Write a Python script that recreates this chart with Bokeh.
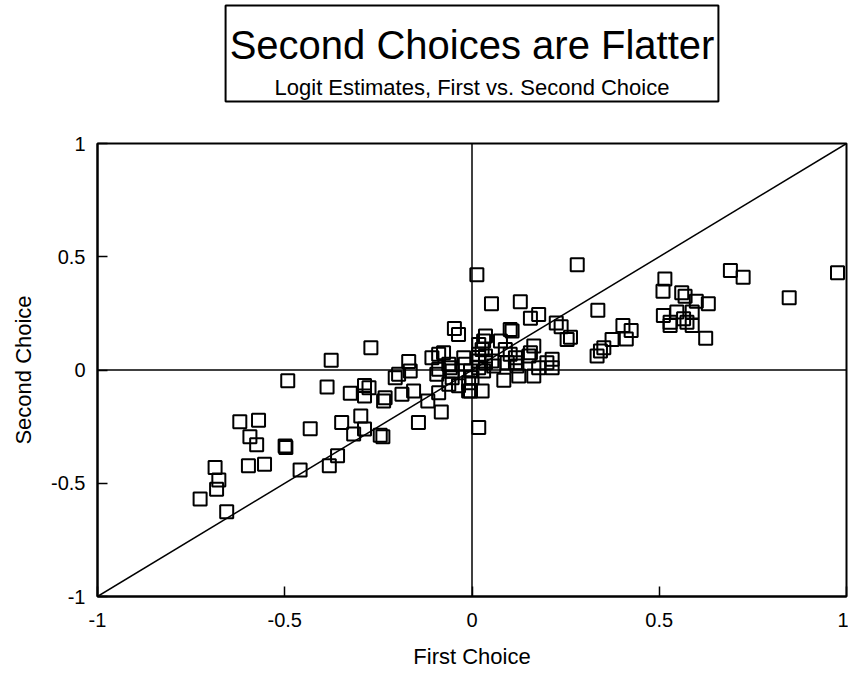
from bokeh.plotting import figure
from bokeh.layouts import column
from bokeh.models import Range1d, FixedTicker, Span, Label, BoxAnnotation, NumeralTickFormatter
from bokeh.embed import file_html
from bokeh.resources import INLINE

# ---- data ----
first_choice = [
    -0.726, -0.686, -0.676, -0.682, -0.655, -0.620, -0.570, -0.593, -0.575, -0.597,
    -0.554, -0.499, -0.497, -0.492, -0.459, -0.432, -0.381, -0.359, -0.376, -0.387,
    -0.348, -0.297, -0.316, -0.287, -0.245, -0.238, -0.270, -0.325, -0.287, -0.275,
    -0.287, -0.236, -0.232, -0.205, -0.196, -0.187, -0.169, -0.165, -0.156, -0.143,
    -0.118, -0.082, -0.089, -0.107, -0.089, -0.076, -0.062, -0.053, -0.036, -0.047,
    -0.009, -0.094, -0.089, -0.058, -0.053, -0.062, -0.036, -0.022, -0.018, -0.004,
    0.000, -0.009, -0.004, 0.027, 0.018, 0.013, 0.281, 0.052, 0.129, 0.156,
    0.178, 0.225, 0.238, 0.254, 0.263, 0.336, 0.334, 0.343, 0.352, 0.374,
    0.036, 0.031, 0.102, 0.107, 0.076, 0.018, 0.027, 0.018, 0.036, 0.089,
    0.102, 0.116, 0.165, 0.156, 0.018, 0.036, 0.053, 0.018, 0.031, 0.058,
    0.094, 0.116, 0.120, 0.152, 0.178, 0.200, 0.214, 0.214, 0.085, 0.125,
    0.165, 0.690, 0.724, 0.976, 0.847, 0.515, 0.510, 0.560, 0.569, 0.599,
    0.631, 0.511, 0.529, 0.529, 0.547, 0.565, 0.574, 0.588, 0.588, 0.624,
    0.403, 0.425, 0.412,
]
second_choice = [
    -0.570, -0.430, -0.486, -0.526, -0.626, -0.229, -0.222, -0.295, -0.330, -0.423,
    -0.416, -0.335, -0.342, -0.048, -0.442, -0.259, -0.423, -0.379, 0.043, -0.075,
    -0.232, -0.203, -0.283, -0.261, -0.288, -0.295, 0.098, -0.103, -0.068, -0.078,
    -0.115, -0.137, -0.122, -0.034, -0.019, -0.107, 0.037, -0.004, -0.093, -0.232,
    -0.137, -0.185, -0.100, 0.054, 0.069, 0.076, 0.025, -0.004, 0.157, 0.183,
    -0.093, -0.019, 0.003, 0.010, -0.034, -0.063, -0.070, 0.054, 0.025, -0.004,
    -0.034, -0.056, -0.093, -0.093, -0.254, 0.421, 0.465, 0.292, 0.301, 0.228,
    0.245, 0.208, 0.191, 0.135, 0.145, 0.264, 0.062, 0.084, 0.098, 0.135,
    0.150, 0.128, 0.179, 0.172, 0.128, 0.113, 0.091, 0.069, 0.062, 0.091,
    0.069, 0.054, 0.106, 0.076, 0.040, 0.032, 0.040, 0.010, -0.004, 0.018,
    0.032, 0.032, 0.018, 0.062, 0.010, 0.032, 0.047, 0.010, -0.045, -0.026,
    -0.026, 0.439, 0.410, 0.429, 0.319, 0.402, 0.348, 0.341, 0.326, 0.304,
    0.292, 0.241, 0.211, 0.197, 0.256, 0.226, 0.211, 0.256, 0.197, 0.140,
    0.197, 0.174, 0.137,
]
diagonal = [-1.0, 1.0]
tick_values = [-1.0, -0.5, 0.0, 0.5, 1.0]
tick_labels = ["-1", "-0.5", "0", "0.5", "1"]
title_text = "Second Choices are Flatter"
subtitle_text = "Logit Estimates, First vs. Second Choice"
x_label = "First Choice"
y_label = "Second Choice"

FONT = "Liberation Sans"
W = 848
TOP_H = 112
MAIN_H = 675 - TOP_H
BL, BR = 97, 2

# ---- title panel (frame aligned with the main plot) ----
top = figure(width=W, height=TOP_H, x_range=Range1d(-1, 1), y_range=Range1d(TOP_H, 0),
             toolbar_location=None, output_backend="svg",
             min_border_left=BL, min_border_right=BR, min_border_top=0, min_border_bottom=0,
             x_axis_location=None, y_axis_location=None)
top.grid.visible = False
top.outline_line_color = None
top.background_fill_color = "white"
top.border_fill_color = "white"
top.add_layout(BoxAnnotation(left=-0.658, right=0.658, top=5, bottom=101,
                             fill_alpha=0, line_color="black", line_alpha=1, line_width=2))
top.add_layout(Label(x=0.0, y=44, text=title_text, text_font=FONT, text_font_size="40px",
                     text_align="center", text_baseline="alphabetic", text_color="black"))
top.add_layout(Label(x=0.0, y=87, text=subtitle_text, text_font=FONT, text_font_size="22px",
                     text_align="center", text_baseline="alphabetic", text_color="black"))

# ---- main plot ----
p = figure(width=W, height=MAIN_H, x_range=Range1d(-1, 1), y_range=Range1d(-1, 1),
           toolbar_location=None, output_backend="svg",
           min_border_left=BL, min_border_right=BR, min_border_top=143 - TOP_H,
           min_border_bottom=79)
p.grid.visible = False
p.outline_line_color = "black"
p.outline_line_width = 2
p.background_fill_color = "white"
p.border_fill_color = "white"

overrides = dict(zip(tick_values, tick_labels))
for ax in (p.xaxis[0], p.yaxis[0]):
    ax.ticker = FixedTicker(ticks=tick_values)
    ax.formatter = NumeralTickFormatter(format="0.[0]")
    ax.major_label_overrides = overrides
    ax.major_tick_in = 10
    ax.major_tick_out = 0
    ax.major_tick_line_color = "black"
    ax.major_tick_line_width = 1.5
    ax.minor_tick_line_color = None
    ax.axis_line_color = "black"
    ax.axis_line_width = 2
    ax.major_label_text_font = FONT
    ax.major_label_text_font_size = "20px"
    ax.major_label_text_color = "black"
    ax.axis_label_text_font = FONT
    ax.axis_label_text_font_size = "22px"
    ax.axis_label_text_font_style = "normal"
    ax.axis_label_text_color = "black"

p.xaxis.axis_label = x_label
p.yaxis.axis_label = y_label
p.xaxis.major_label_standoff = 16
p.xaxis.axis_label_standoff = 14
p.yaxis.major_label_standoff = 12
p.yaxis.axis_label_standoff = 12
p.yaxis.major_label_orientation = "horizontal"

p.add_layout(Span(location=0, dimension="height", line_color="black", line_width=1.5))
p.add_layout(Span(location=0, dimension="width", line_color="black", line_width=1.5))
p.line(diagonal, diagonal, line_color="black", line_width=1.5)
p.scatter(first_choice, second_choice, marker="square", size=13,
          fill_color=None, line_color="black", line_width=2)

layout = column(top, p)
open("out.html", "w").write(file_html(layout, INLINE))
